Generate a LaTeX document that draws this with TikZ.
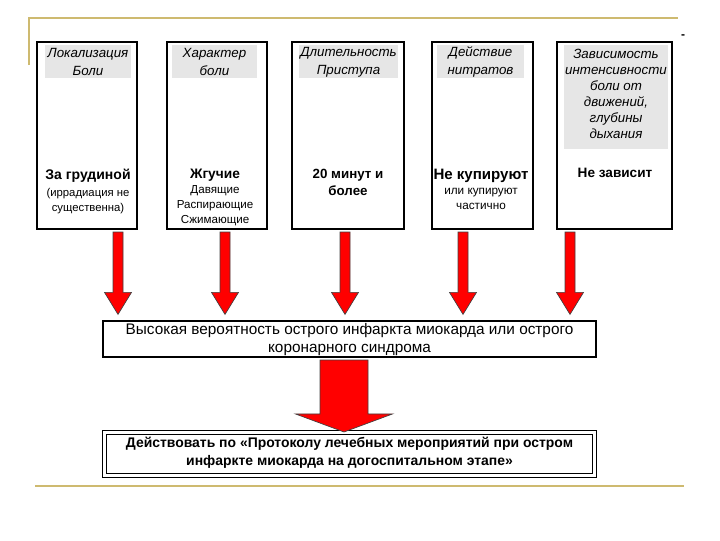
\documentclass[tikz,border=0pt]{standalone}
\usepackage{fontspec}
\setmainfont{Liberation Sans}
\usetikzlibrary{calc,fit}
\definecolor{gold}{RGB}{206,186,112}
\definecolor{hdrgray}{RGB}{230,230,230}
\definecolor{arrred}{RGB}{255,0,0}
\newcommand\fatarrow[5]{% start, tip, shaft half, head half, head length
  \draw[arrowsty] ($(#1)+(-#3,0)$) -- ($(#2)+(-#3,-#5)$) -- ($(#2)+(-#4,-#5)$) -- (#2)
    -- ($(#2)+(#4,-#5)$) -- ($(#2)+(#3,-#5)$) -- ($(#1)+(#3,0)$) -- cycle;}
\begin{document}
\begin{tikzpicture}[x=0.75pt,y=-0.75pt,
  box/.style={draw=black,line width=0.9pt,inner sep=0pt},
  hdr/.style={fill=hdrgray,inner sep=0pt,align=center,font=\itshape\fontsize{10}{13.5}\selectfont},
  hdrtall/.style={hdr,font=\itshape\fontsize{10}{12}\selectfont},
  content/.style={anchor=north,inner sep=0pt,align=center},
  midtext/.style={align=center,font=\fontsize{11.5}{13.5}\selectfont},
  bottext/.style={align=center,font=\bfseries\fontsize{10.45}{13.5}\selectfont},
  goldline/.style={draw=gold,line width=2pt},
  arrowsty/.style={fill=arrred,draw=black!75,line width=0.5pt,line join=miter}]
\useasboundingbox (0,0) rectangle (720,540);
% gold frame lines
\coordinate (g1) at (29,65);
\coordinate (g2) at (29,18);
\coordinate (g3) at (678,18);
\coordinate (g4) at (35,486);
\coordinate (g5) at (684,486);
\draw[goldline] (g1) -- (g2) -- (g3);
\draw[goldline] (g4) -- (g5);
\node[inner sep=0pt,font=\bfseries\fontsize{9}{9}\selectfont] (dash) at (683,37) {-};
% top boxes
\node[box,fit={(37,42) (137,229)}] (b1) {};
\node[box,fit={(167,42) (267,229)}] (b2) {};
\node[box,fit={(292,42) (404,229)}] (b3) {};
\node[box,fit={(432,42) (533,229)}] (b4) {};
\node[box,fit={(557,42) (672,229)}] (b5) {};
% headers
\node[hdr,fit={(45,45) (131,78)}] (h1) {};
\node[hdr] (h1t) at ($(h1.center)+(0,0.5)$) {Локализация\\Боли};
\node[hdr,fit={(172,45) (257,78)}] (h2) {};
\node[hdr] (h2t) at ($(h2.center)+(0,0.5)$) {Характер\\боли};
\node[hdr,fit={(299,45) (398,78)}] (h3) {};
\node[hdr] (h3t) at ($(h3.center)+(0,0.5)$) {Длительность\\Приступа};
\node[hdr,fit={(437,45) (524,78)}] (h4) {};
\node[hdr] (h4t) at ($(h4.center)+(0,0.5)$) {Действие\\нитратов};
\node[hdr,fit={(564,45) (668,149)}] (h5) {};
\node[hdrtall] (h5t) at ($(h5.center)+(0,-3)$) {Зависимость\\интенсивности\\боли от\\движений,\\глубины\\дыхания};
% contents
\node[content,font=\fontsize{8.5}{11.25}\selectfont] (c1) at (88,169) {{\bfseries\fontsize{10.5}{13}\selectfont За грудиной}\\[1pt]
  (иррадиация не\\существенна)};
\node[content,font=\fontsize{8.7}{11.25}\selectfont] (c2) at (215,169) {{\bfseries\fontsize{10.3}{13}\selectfont Жгучие}\\
  Давящие\\Распирающие\\Сжимающие};
\node[content,font=\bfseries\fontsize{10}{12.75}\selectfont] (c3) at (348,169) {20 минут и\\более};
\node[content,font=\fontsize{8.8}{11.25}\selectfont] (c4) at (481,169) {{\bfseries\fontsize{11.3}{13}\selectfont Не купируют}\\
  или купируют\\частично};
\node[content,font=\bfseries\fontsize{10.2}{13}\selectfont] (c5) at (615,168) {Не зависит};
% middle and bottom boxes
\node[box,fit={(103,321) (596,357)}] (mid) {};
\node[midtext] (midt) at ($(mid.center)+(0,0.5)$) {Высокая вероятность острого инфаркта миокарда или острого\\коронарного синдрома};
\node[box,double=white,double distance=1.6pt,line width=0.8pt,fit={(104.5,432.5) (594.5,475.5)}] (bot) {};
\node[bottext] (bott) at ($(bot.center)+(0,-1)$) {Действовать по «Протоколу лечебных мероприятий при остром\\инфаркте миокарда на догоспитальном этапе»};
% thin arrows
\foreach \i/\x in {1/118,2/225,3/345,4/463,5/570}{
  \coordinate (a\i) at (\x,232);
  \coordinate (t\i) at ($(a\i |- mid.north)+(0,-6)$);
  \fatarrow{a\i}{t\i}{5}{13.5}{22}
}
% big arrow
\coordinate (A) at (344,360);
\coordinate (T) at (A |- bot.north);
\fatarrow{A}{T}{24}{48.5}{18}
\end{tikzpicture}
\end{document}
